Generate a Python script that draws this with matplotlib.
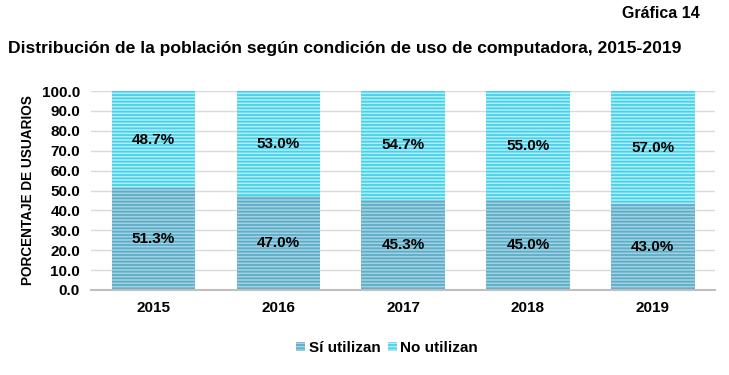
import numpy as np
import matplotlib
matplotlib.use('Agg')
import matplotlib.pyplot as plt
from matplotlib.patches import Patch

plt.rcParams['font.family'] = ['Liberation Sans', 'DejaVu Sans']
plt.rcParams['hatch.linewidth'] = 1.3

years = ['2015', '2016', '2017', '2018', '2019']
si_utilizan = [51.3, 47.0, 45.3, 45.0, 43.0]
no_utilizan = [48.7, 53.0, 54.7, 55.0, 57.0]
yticks = [0, 10, 20, 30, 40, 50, 60, 70, 80, 90, 100]

fig = plt.figure(figsize=(7.29, 3.75), dpi=100)
ax = fig.add_axes([0.125, 0.227, 0.856, 0.53])

x = np.arange(len(years))
w = 0.67
c_si_face, c_si_edge = '#a3d3e3', '#5eadc8'
c_no_face, c_no_edge = '#b3eef8', '#45d2ea'
ax.bar(x, si_utilizan, w, color=c_si_face, edgecolor=c_si_edge, hatch='-----', lw=0, zorder=2)
ax.bar(x, no_utilizan, w, bottom=si_utilizan, color=c_no_face, edgecolor=c_no_edge,
       hatch='-----', lw=0, zorder=2)

for i in range(len(years)):
    ax.text(x[i], si_utilizan[i] / 2, f'{si_utilizan[i]:.1f}%', ha='center', va='center',
            fontsize=11, fontweight='bold', zorder=3)
    ax.text(x[i], si_utilizan[i] + no_utilizan[i] / 2, f'{no_utilizan[i]:.1f}%', ha='center',
            va='center', fontsize=11, fontweight='bold', zorder=3)

ax.set_xlim(-0.5, len(years) - 0.5)
ax.set_ylim(0, 100)
ax.set_yticks(yticks)
ax.set_yticklabels([f'{v:.1f}' for v in yticks], fontsize=11, fontweight='bold')
ax.set_xticks(x)
ax.set_xticklabels(years, fontsize=11, fontweight='bold')
ax.tick_params(length=0, pad=8)
ax.tick_params(axis='x', pad=8)
ax.grid(axis='y', color='#d9d9d9', lw=1, zorder=0)
for s in ['top', 'right', 'left']:
    ax.spines[s].set_visible(False)
ax.spines['bottom'].set_color('#bfbfbf')
ax.spines['bottom'].set_linewidth(1.5)
ax.set_ylabel('PORCENTAJE DE USUARIOS', fontsize=9.8, fontweight='bold', labelpad=5)

fig.text(0.96, 0.965, 'Gráfica 14', ha='right', va='center', fontsize=11.5, fontweight='bold')
fig.text(0.011, 0.87, 'Distribución de la población según condición de uso de computadora, 2015-2019',
         ha='left', va='center', fontsize=12.6, fontweight='bold')

handles = [Patch(facecolor=c_si_face, edgecolor=c_si_edge, hatch='-----', lw=0, label='Sí utilizan'),
           Patch(facecolor=c_no_face, edgecolor=c_no_edge, hatch='-----', lw=0, label='No utilizan')]
fig.legend(handles=handles, loc='center', bbox_to_anchor=(0.531, 0.072), ncol=2, frameon=False,
           prop={'weight': 'bold', 'size': 11}, handlelength=0.6, handleheight=0.6,
           handletextpad=0.2, columnspacing=0.5)

fig.savefig('out.png', dpi=100)
